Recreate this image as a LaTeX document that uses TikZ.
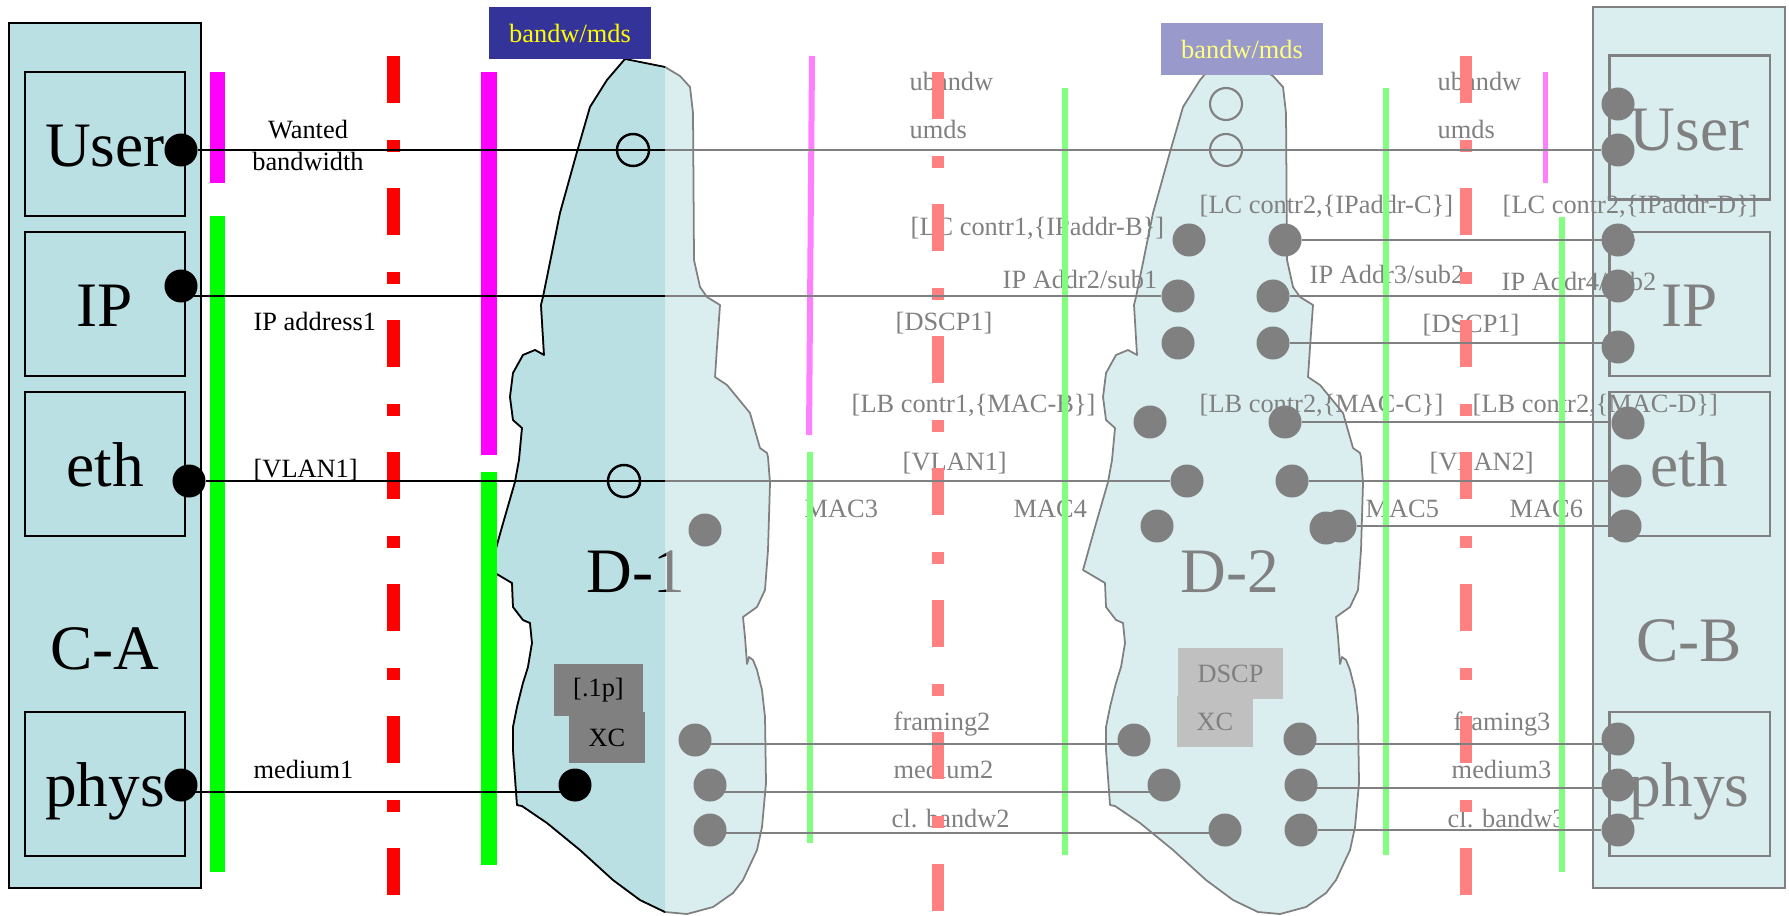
\documentclass[tikz,border=0pt]{standalone}
\usepackage{fontspec}
\setmainfont{Liberation Serif}
\usetikzlibrary{calc}
\definecolor{tealdark}{RGB}{187,224,227}
\definecolor{teallight}{RGB}{218,238,240}
\definecolor{mygray}{RGB}{128,128,128}
\definecolor{mysilver}{RGB}{192,192,192}
\definecolor{mymagenta}{RGB}{255,0,255}
\definecolor{mygreen}{RGB}{0,255,0}
\definecolor{myred}{RGB}{255,0,0}
\definecolor{palemagenta}{RGB}{255,128,255}
\definecolor{palegreen}{RGB}{128,255,128}
\definecolor{palered}{RGB}{255,128,128}
\definecolor{mynavy}{RGB}{51,51,153}
\definecolor{palenavy}{RGB}{153,153,204}
\definecolor{myyellow}{RGB}{255,255,0}
\definecolor{paleyellow}{RGB}{255,255,128}
\newcommand{\bigfont}{\fontsize{18}{21}\selectfont}
\newcommand{\smallfont}{\fontsize{7.5}{9.1}\selectfont}
% outline of a domain cloud (D-1 position)
\newcommand{\cloudpath}{(625,59) -- (640,62) -- (665,67) -- (680,76) -- (690,87) -- (693,113)
  -- (694,260) -- (700,287) -- (707,297) -- (720,305) -- (717,347) -- (715,377) -- (727,385)
  -- (750,413) -- (760,448) -- (767,453) -- (768,457) -- (770,483) -- (768,550) -- (765,590)
  -- (757,607) -- (743,617) -- (745,637) -- (747,664) -- (749,657) -- (753,660) -- (757,670)
  -- (762,690) -- (765,717) -- (766,783) -- (762,827) -- (757,850) -- (743,880) -- (733,893)
  -- (713,907) -- (687,914) -- (665,912) -- (640,900) -- (613,880) -- (580,850) -- (547,823)
  -- (522,806) -- (517,805) -- (513,750) -- (513,727) -- (517,707) -- (523,683) -- (528,667)
  -- (532,643) -- (530,623) -- (523,620) -- (513,607) -- (512,583) -- (490,570) -- (502,527)
  -- (515,482) -- (519,460) -- (522,428) -- (513,420) -- (510,397) -- (513,373) -- (523,355)
  -- (535,350) -- (544,355) -- (541,305) -- (543,297) -- (560,213) -- (577,152) -- (590,107)
  -- (607,80) -- cycle}
\tikzset{
  hostbox/.style={rectangle, inner sep=0pt, line width=0.6pt},
  layerbox/.style={rectangle, draw, inner sep=0pt, minimum width=1.6cm, minimum height=1.44cm,
    font=\bigfont, text height=13pt, text depth=0pt, line width=0.6pt},
  fadebox/.style={layerbox, draw=mygray, text=mygray},
  hostname/.style={inner sep=0pt, font=\bigfont, text height=13pt, text depth=0pt},
  cloud/.style={line width=0.5pt, line join=round},
  port/.style={circle, fill, inner sep=0pt, minimum size=0.33cm},
  ring/.style={circle, draw, inner sep=0pt, minimum size=0.32cm, line width=0.7pt},
  lbl/.style={inner sep=0pt, anchor=base west, font=\smallfont},
  tagbox/.style={rectangle, inner sep=0pt, font=\smallfont},
  wire/.style={line width=0.6pt},
  stripe/.style={line width=#1},
  sepline/.style={line width=0.13cm, dash pattern=on 0.47cm off 0.37cm on 0.12cm off 0.36cm}
}
\begin{document}
\begin{tikzpicture}[x=0.01cm, y=-0.01cm]
  \useasboundingbox (0,0) rectangle (1789,915);

  % Hosts
  \node[hostbox, draw=black, fill=tealdark, minimum width=1.92cm, minimum height=8.65cm] (ca) at (105,455.5) {};
  \node[layerbox] (causerbox) at (105,144) {User};
  \node[layerbox] (caipbox) at (105,304) {IP};
  \node[layerbox] (caethbox) at (105,464) {eth};
  \node[layerbox] (caphysbox) at (105,784) {phys};
  \node[hostname] (caname) at (105,647) {C-A};

  \node[hostbox, draw=mygray, fill=teallight, minimum width=1.92cm, minimum height=8.81cm] (cb) at (1689,447.5) {};
  \node[fadebox] (cbuserbox) at (1689.5,127.5) {User};
  \node[fadebox] (cbipbox) at (1689.5,304) {IP};
  \node[fadebox] (cbethbox) at (1689.5,464) {eth};
  \node[fadebox] (cbphysbox) at (1689.5,784) {phys};
  \node[hostname, text=mygray] (cbname) at (1689,639) {C-B};

  % Domains
  \filldraw[cloud, fill=teallight, draw=mygray] \cloudpath;
  \node[hostname, anchor=base, text=mygray] (d1name) at (636,592) {D-1};
  \begin{scope}
    \clip (0,0) rectangle (665,915);
    \filldraw[cloud, fill=tealdark, draw=black] \cloudpath;
    \node[hostname, anchor=base] at (636,592) {D-1};
  \end{scope}
  \begin{scope}[shift={(593,0)}]
    \filldraw[cloud, fill=teallight, draw=mygray] \cloudpath;
  \end{scope}
  \node[hostname, anchor=base, text=mygray] (d2name) at (1230,592) {D-2};

  \node[tagbox, fill=mygray, minimum width=0.89cm, minimum height=0.52cm] (d1dot1p) at (598.5,690) {[.1p]};
  \node[tagbox, fill=mygray, minimum width=0.76cm, minimum height=0.51cm] (d1xc) at (607,737.5) {XC};
  \node[tagbox, fill=mysilver, text=mygray, minimum width=1.05cm, minimum height=0.51cm] (d2dscp) at (1230.5,673.5) {DSCP};
  \node[tagbox, fill=mysilver, text=mygray, minimum width=0.76cm, minimum height=0.51cm] (d2xc) at (1215,721.5) {XC};

  \node[tagbox, fill=mynavy, text=myyellow, minimum width=1.62cm, minimum height=0.52cm] (d1bw) at (570,33) {bandw/mds};
  \node[tagbox, fill=palenavy, text=paleyellow, minimum width=1.62cm, minimum height=0.52cm] (d2bw) at (1242,49) {bandw/mds};

  % Labels
  \node[lbl, anchor=base, align=center] (wanted) at (308,170) {Wanted\\bandwidth};
  \node[lbl] (ipaddr1) at (253,330) {IP address1};
  \node[lbl] (vlan1a) at (253,477) {[VLAN1]};
  \node[lbl] (medium1) at (253,778) {medium1};

  \begin{scope}[every node/.append style={text=mygray}]
    \node[lbl] (ubandw1) at (909,90) {ubandw};
    \node[lbl] (umds1) at (909,138) {umds};
    \node[lbl] (lc1) at (910,235) {[LC contr1,\{IPaddr-B\}]};
    \node[lbl] (ipaddr2) at (1002,288) {IP Addr2/sub1};
    \node[lbl] (dscp1a) at (895,330) {[DSCP1]};
    \node[lbl] (lb1) at (851,412) {[LB contr1,\{MAC-B\}]};
    \node[lbl] (vlan1b) at (902,470) {[VLAN1]};
    \node[lbl] (mac3) at (804,517) {MAC3};
    \node[lbl] (mac4) at (1013,517) {MAC4};
    \node[lbl] (framing2) at (893,730) {framing2};
    \node[lbl] (medium2) at (893,778) {medium2};
    \node[lbl] (clbw2) at (891,827) {cl. bandw2};
    \node[lbl] (lc2c) at (1199,213) {[LC contr2,\{IPaddr-C\}]};
    \node[lbl] (ipaddr3) at (1309,283) {IP Addr3/sub2};
    \node[lbl] (lb2c) at (1199,412) {[LB contr2,\{MAC-C\}]};
    \node[lbl] (ubandw2) at (1437,90) {ubandw};
    \node[lbl] (umds2) at (1437,138) {umds};
    \node[lbl] (lc2d) at (1502,213) {[LC contr2,\{IPaddr-D\}]};
    \node[lbl] (ipaddr4) at (1501,290) {IP Addr4/sub2};
    \node[lbl] (dscp1b) at (1422,332) {[DSCP1]};
    \node[lbl] (lb2d) at (1472,412) {[LB contr2,\{MAC-D\}]};
    \node[lbl] (vlan2) at (1429,470) {[VLAN2]};
    \node[lbl] (mac5) at (1365,517) {MAC5};
    \node[lbl] (mac6) at (1509,517) {MAC6};
    \node[lbl] (framing3) at (1453,730) {framing3};
    \node[lbl] (medium3) at (1451,778) {medium3};
    \node[lbl] (clbw3) at (1447,827) {cl. bandw3};
  \end{scope}

  % Layer boundaries
  \draw[stripe=0.15cm, mymagenta] (217.5,72) -- (217.5,183);
  \draw[stripe=0.15cm, mygreen] (217.5,216) -- (217.5,872);
  \draw[stripe=0.16cm, mymagenta] (489,72) -- (489,455);
  \draw[stripe=0.16cm, mygreen] (489,472) -- (489,865);
  \draw[sepline, myred] (393.5,56) -- (393.5,895);

  \draw[stripe=0.06cm, palemagenta] (812,56) -- (809,435);
  \draw[stripe=0.06cm, palegreen] (810,452) -- (810,843);
  \draw[stripe=0.06cm, palegreen] (1065,88) -- (1065,855);
  \draw[stripe=0.06cm, palegreen] (1386,88) -- (1386,855);
  \draw[stripe=0.06cm, palegreen] (1562,217) -- (1562,872);
  \draw[stripe=0.05cm, palemagenta] (1545,72) -- (1545,183);
  \draw[sepline, palered, line width=0.12cm] (937.5,72) -- (937.5,911);
  \draw[sepline, palered, line width=0.12cm] (1466,56) -- (1466,895);

  % Ports
  \node[port] (causer) at (181,150) {};
  \node[port] (caip) at (181,286) {};
  \node[port] (caeth) at (189,481) {};
  \node[port] (caphys) at (181,785) {};

  \node[ring] (d1user) at (633,150) {};
  \node[ring] (d1eth) at (624,481) {};
  \node[port] (d1phys) at (575,785) {};
  \node[port, mygray] (d1mac) at (705,530) {};
  \node[port, mygray] (d1fr) at (695,740) {};
  \node[port, mygray] (d1med) at (710,785) {};
  \node[port, mygray] (d1clbw) at (710,830) {};

  \node[ring, mygray, line width=0.6pt] (d2ring1) at (1226,104) {};
  \node[ring, mygray, line width=0.6pt] (d2ring2) at (1226,150) {};
  \node[port, mygray] (d2lcL) at (1189,240) {};
  \node[port, mygray] (d2lcR) at (1285,240) {};
  \node[port, mygray] (d2ipL) at (1178,296) {};
  \node[port, mygray] (d2ipR) at (1273,296) {};
  \node[port, mygray] (d2dscpL) at (1178,343) {};
  \node[port, mygray] (d2dscpR) at (1273,343) {};
  \node[port, mygray] (d2lbL) at (1150,422) {};
  \node[port, mygray] (d2lbR) at (1285,422) {};
  \node[port, mygray] (d2vlanL) at (1187,481) {};
  \node[port, mygray] (d2vlanR) at (1292,481) {};
  \node[port, mygray] (d2macL) at (1157,526) {};
  \node[port, mygray] (d2macA) at (1326,528) {};
  \node[port, mygray] (d2macR) at (1340,526) {};
  \node[port, mygray] (d2frL) at (1134,740) {};
  \node[port, mygray] (d2frR) at (1300,739) {};
  \node[port, mygray] (d2medL) at (1164,785) {};
  \node[port, mygray] (d2medR) at (1301,785) {};
  \node[port, mygray] (d2clbwL) at (1225,830) {};
  \node[port, mygray] (d2clbwR) at (1301,830) {};

  \node[port, mygray] (cbuser1) at (1618,104) {};
  \node[port, mygray] (cbuser2) at (1618,150) {};
  \node[port, mygray] (cblc) at (1618,240) {};
  \node[port, mygray] (cbip) at (1618,286) {};
  \node[port, mygray] (cbdscp) at (1618,347) {};
  \node[port, mygray] (cblb) at (1628,423) {};
  \node[port, mygray] (cbvlan) at (1625,481) {};
  \node[port, mygray] (cbmac) at (1625,526) {};
  \node[port, mygray] (cbfr) at (1618,739) {};
  \node[port, mygray] (cbmed) at (1618,785) {};
  \node[port, mygray] (cbclbw) at (1618,830) {};

  % Wires
  \coordinate (split) at (665,0);
  \draw[wire] (causer) -- (causer -| split);
  \draw[wire, mygray] (causer -| split) -- (cbuser2);
  \draw[wire] ($(caip)+(0,10)$) -- (d2ipL -| split);
  \draw[wire, mygray] (d2ipL -| split) -- (d2ipL);
  \draw[wire] (caeth) -- (caeth -| split);
  \draw[wire, mygray] (caeth -| split) -- (d2vlanL);
  \draw[wire] ($(caphys)+(0,7)$) -- ($(d1phys)+(0,7)$);

  \draw[wire, mygray] ($(d1fr)+(0,4)$) -- ($(d2frL)+(0,4)$);
  \draw[wire, mygray] ($(d1med)+(0,7)$) -- ($(d2medL)+(0,7)$);
  \draw[wire, mygray] ($(d1clbw)+(0,3)$) -- ($(d2clbwL)+(0,3)$);
  \draw[wire, mygray] (d2lcR) -- (cblc.east);
  \draw[wire, mygray] (d2ipR) -- (d2ipR -| cbip);
  \draw[wire, mygray] (d2dscpR) -- (d2dscpR -| cbdscp);
  \draw[wire, mygray] (d2lbR) -- (d2lbR -| cblb.west);
  \draw[wire, mygray] (d2vlanR) -- (cbvlan);
  \draw[wire, mygray] (d2macR) -- (cbmac);
  \draw[wire, mygray] ($(d2frR)+(0,5)$) -- ($(cbfr)+(0,5)$);
  \draw[wire, mygray] ($(d2medR)+(0,3)$) -- ($(cbmed)+(0,3)$);
  \draw[wire, mygray] (d2clbwR) -- (cbclbw);

\end{tikzpicture}
\end{document}
